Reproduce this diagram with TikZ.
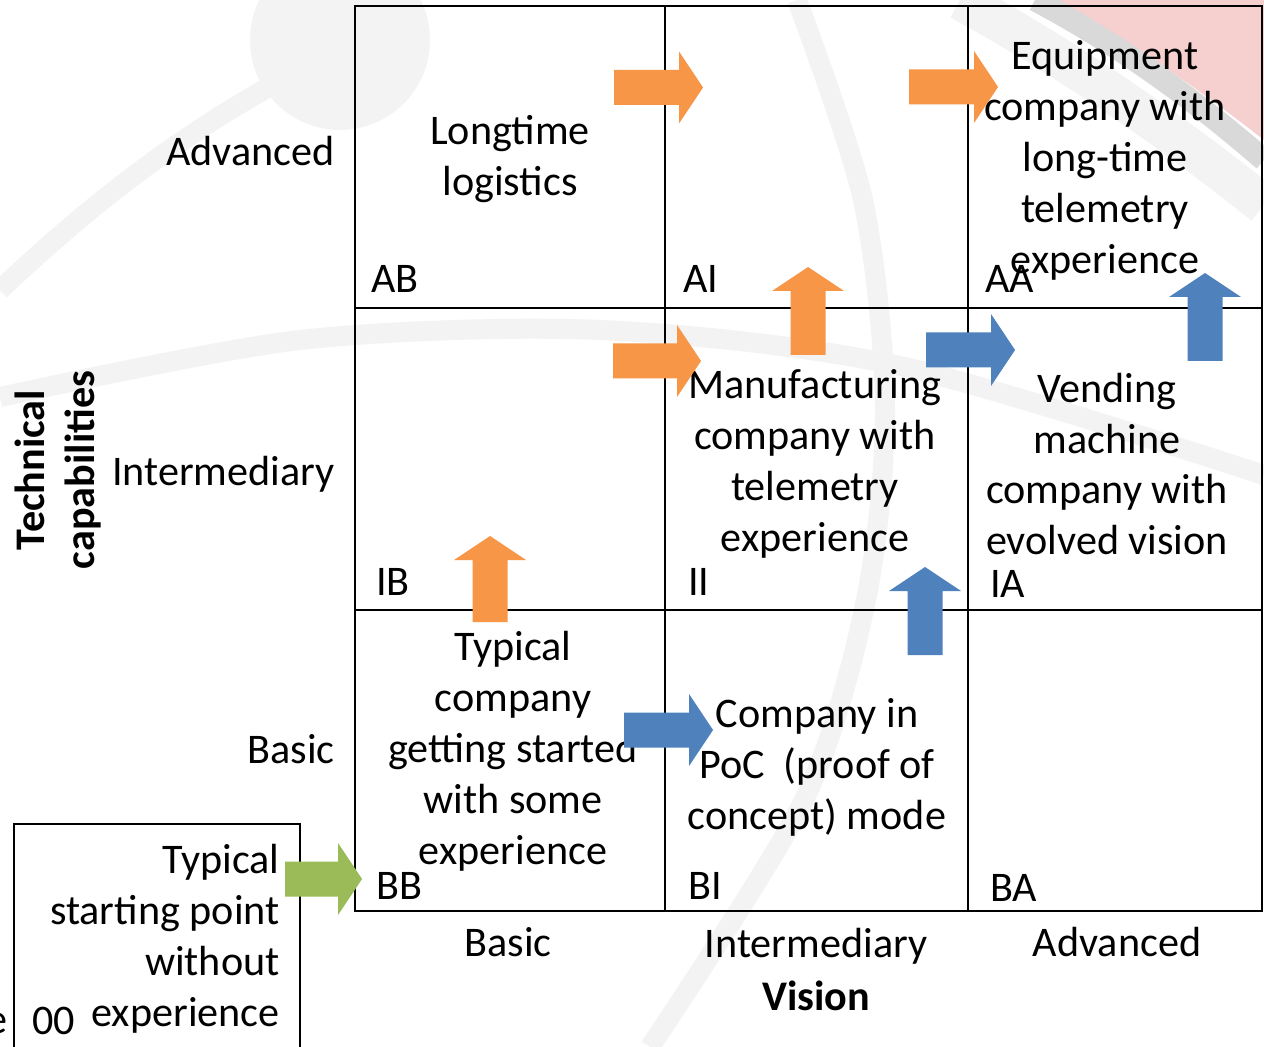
\documentclass[tikz,border=0pt]{standalone}
\usepackage{fontspec}
\setmainfont{Carlito}
\usetikzlibrary{positioning}
\definecolor{arrorange}{HTML}{F79646}
\definecolor{arrblue}{HTML}{4F81BD}
\definecolor{arrgreen}{HTML}{9BBB59}
\definecolor{bgband}{HTML}{F3F3F3}
\definecolor{bgpink}{HTML}{F6CFCF}
\tikzset{
  every node/.style = {font=\fontsize{24}{29}\selectfont, inner sep=0pt},
  cell/.style = {align=center},
  corner/.style = {anchor=base west},
  rowlab/.style = {anchor=base east},
  collab/.style = {anchor=base},
  band/.style = {draw=bgband, line width=0.4cm},
  grid/.style = {line width=1.1pt},
  blockarr/.pic = {
    \path[pic actions] (0,-17.5) -- (#1,-17.5) -- (#1,-36) -- (#1+24,0)
      -- (#1,36) -- (#1,17.5) -- (0,17.5) -- cycle;
  },
}
\begin{document}
\begin{tikzpicture}[x=0.02cm, y=-0.02cm, node distance = 1.0cm]
  \useasboundingbox (0,0) rectangle (1264,1047);
  \fill[white] (0,0) rectangle (1264,1047);
  \fill[bgband] (340,40) circle (90);
  \draw[band] (0,290) .. controls (100,195) and (190,130) .. (285,78);
  \draw[band] plot[smooth] coordinates {(0,397) (300,340) (600,330) (900,366) (1264,475)};
  \draw[band] plot[smooth] coordinates {(797,0) (863,200) (885,407) (866,600) (804,800) (650,1047)};
  \draw[band, line width=0.8cm] (960,0) .. controls (1070,60) and (1170,130) .. (1264,205);
  \fill[bgpink] (1050,0) .. controls (1130,40) and (1200,90) .. (1264,140) -- (1264,0) -- cycle;
  \draw[black!15, line width=0.45cm] (1035,0) .. controls (1120,45) and (1195,100) .. (1264,160);

  \draw[grid] (355,6) rectangle (1262,911);
  \foreach \x in {665,968} \draw[grid] (\x,6) -- (\x,911);
  \foreach \y in {308,610} \draw[grid] (355,\y) -- (1262,\y);
  \draw[grid] (14,824) rectangle (300,1070);

  \node (tAB) [cell] at (510,159) {Longtime\\logistics};
  \node (tAA) [cell] at (1105,160) {Equipment\\company with\\long-time\\telemetry\\experience};
  \node (tII) [cell] at (815,464) {Manufacturing\\company with\\telemetry\\experience};
  \node (tIA) [cell] at (1107,464) {Vending\\machine\\company with\\evolved vision};
  \node (tBB) [cell] at (513,751) {Typical\\company\\getting started\\with some\\experience};
  \node (tBI) [cell] at (817,767) {Company in\\PoC~~(proof of\\concept) mode};
  \node (start) [align=right, anchor=east] at (280,939) {Typical\\starting point\\without\\experience};

  \node (AB) [corner] at (371,293) {AB};
  \node (AI) [corner] at (683,293) {AI};
  \node (AA) [corner] at (985,293) {AA};
  \node (IB) [corner] at (376,595) {IB};
  \node (II) [corner] at (688,595) {II};
  \node (IA) [corner] at (990,597) {IA};
  \node (BB) [corner] at (376,899) {BB};
  \node (BI) [corner] at (688,899) {BI};
  \node (BA) [corner] at (990,901) {BA};
  \node (s00) [corner] at (32,1034) {00};
  \node (frag) [corner] at (-14,1033) {e};

  \node (rA) [rowlab] at (335,166) {Advanced};
  \node (rI) [rowlab] at (335,485) {Intermediary};
  \node (rB) [rowlab] at (335,763) {Basic};
  \node (cB) [collab] at (508,956) {Basic};
  \node (cI) [collab] at (816,957) {Intermediary};
  \node (cA) [collab] at (1117,956) {Advanced};
  \node (vis) [below of = cI, font=\fontsize{24}{29}\selectfont\bfseries] {Vision};
  \node (tech) [align=center, rotate=90, font=\fontsize{24}{29}\selectfont\bfseries] at (58,470) {Technical\\capabilities};

  \pic[fill=arrorange] at (614,87.5) {blockarr=65};
  \pic[fill=arrorange] at (909,87) {blockarr=65};
  \pic[fill=arrorange, rotate=90] at (808,355) {blockarr=64};
  \pic[fill=arrorange] at (613,361) {blockarr=64};
  \pic[fill=arrorange, rotate=90] at (490,622) {blockarr=62};
  \pic[fill=arrblue] at (926,350) {blockarr=65};
  \pic[fill=arrblue, rotate=90] at (1205,361) {blockarr=64};
  \pic[fill=arrblue, rotate=90] at (925,655) {blockarr=64};
  \pic[fill=arrblue] at (624,730) {blockarr=65};
  \pic[fill=arrgreen] at (285,879) {blockarr=53};
\end{tikzpicture}
\end{document}
